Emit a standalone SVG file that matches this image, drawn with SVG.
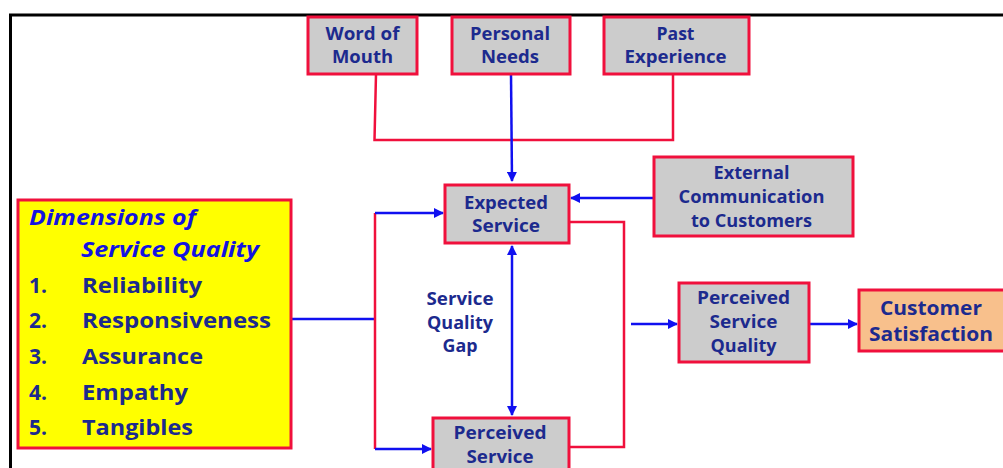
<svg xmlns="http://www.w3.org/2000/svg" width="1003" height="468" viewBox="0 0 1003 468">
  <style>
    .box { fill: #cccccc; stroke: #f0103c; stroke-width: 3; }
    .lbl { font-family: "Open Sans", Lato, sans-serif; font-weight: bold; fill: #1c2a8e; text-anchor: middle; }
    .s17 { font-size: 17.5px; }
    .s20 { font-size: 20px; }
    .red { fill: none; stroke: #f0103c; stroke-width: 2.5; }
    .blue { fill: none; stroke: #1010f0; stroke-width: 2.5; }
    .dim { font-family: "Open Sans", Lato, sans-serif; font-weight: bold; font-size: 21px; fill: #1c2a8e; }
    .dimt { font-family: "Open Sans", Lato, sans-serif; font-weight: bold; font-style: italic; font-size: 21px; fill: #1414e0; }
  </style>
  <defs>
    <marker id="arr" viewBox="0 0 10 10" refX="9" refY="5" markerWidth="4" markerHeight="4" orient="auto-start-reverse" markerUnits="strokeWidth">
      <path d="M0,0 L10,5 L0,10 z" fill="#1010f0"/>
    </marker>
  </defs>
  <rect width="1003" height="468" fill="#ffffff"/>
  <!-- frame -->
  <path d="M10.5,468 V15 H1003" fill="none" stroke="#000000" stroke-width="3"/>

  <!-- connectors -->
  <g id="connectors">
    <path class="red" d="M376,74 L374.5,140 H673 V74"/>
    <path class="blue" d="M511,74 L512,181" marker-end="url(#arr)"/>
    <path class="blue" d="M654,198 H571" marker-end="url(#arr)"/>
    <path class="blue" d="M291,319 H375"/>
    <path class="red" d="M375,213 V449"/>
    <path class="blue" d="M375,213 H443" marker-end="url(#arr)"/>
    <path class="blue" d="M375,449 H431" marker-end="url(#arr)"/>
    <path class="blue" d="M512,246 V415" marker-start="url(#arr)" marker-end="url(#arr)"/>
    <path class="red" d="M569,222 H624 V447 H569"/>
    <path class="blue" d="M631,324 H677" marker-end="url(#arr)"/>
    <path class="blue" d="M809,324 H857" marker-end="url(#arr)"/>
  </g>

  <g id="word-of-mouth">
    <rect class="box" x="308" y="17" width="109" height="57"/>
    <text class="lbl s17" x="362.5" y="40" textLength="74" lengthAdjust="spacingAndGlyphs">Word of</text>
    <text class="lbl s17" x="362.5" y="63" textLength="61" lengthAdjust="spacingAndGlyphs">Mouth</text>
  </g>
  <g id="personal-needs">
    <rect class="box" x="452" y="17" width="118" height="57"/>
    <text class="lbl s17" x="510" y="40" textLength="80" lengthAdjust="spacingAndGlyphs">Personal</text>
    <text class="lbl s17" x="510" y="63" textLength="58" lengthAdjust="spacingAndGlyphs">Needs</text>
  </g>
  <g id="past-experience">
    <rect class="box" x="604" y="17" width="145" height="57"/>
    <text class="lbl s17" x="675.5" y="40" textLength="38" lengthAdjust="spacingAndGlyphs">Past</text>
    <text class="lbl s17" x="675.5" y="63" textLength="102" lengthAdjust="spacingAndGlyphs">Experience</text>
  </g>
  <g id="external-communication">
    <rect class="box" x="654" y="157" width="199" height="79"/>
    <text class="lbl s17" x="751.5" y="179" textLength="76" lengthAdjust="spacingAndGlyphs">External</text>
    <text class="lbl s17" x="751.5" y="203" textLength="146" lengthAdjust="spacingAndGlyphs">Communication</text>
    <text class="lbl s17" x="751.5" y="227" textLength="121" lengthAdjust="spacingAndGlyphs">to Customers</text>
  </g>
  <g id="expected-service">
    <rect class="box" x="445" y="185" width="124" height="58"/>
    <text class="lbl s17" x="506" y="209" textLength="84" lengthAdjust="spacingAndGlyphs">Expected</text>
    <text class="lbl s17" x="506" y="232" textLength="68" lengthAdjust="spacingAndGlyphs">Service</text>
  </g>
  <g id="perceived-service">
    <rect class="box" x="433" y="418" width="136" height="60"/>
    <text class="lbl s17" x="500" y="439" textLength="93" lengthAdjust="spacingAndGlyphs">Perceived</text>
    <text class="lbl s17" x="500" y="463" textLength="67" lengthAdjust="spacingAndGlyphs">Service</text>
  </g>
  <g id="perceived-service-quality">
    <rect class="box" x="679" y="283" width="130" height="79"/>
    <text class="lbl s17" x="743.5" y="304" textLength="93" lengthAdjust="spacingAndGlyphs">Perceived</text>
    <text class="lbl s17" x="743.5" y="328" textLength="68" lengthAdjust="spacingAndGlyphs">Service</text>
    <text class="lbl s17" x="743.5" y="352" textLength="66" lengthAdjust="spacingAndGlyphs">Quality</text>
  </g>
  <g id="customer-satisfaction">
    <rect x="859" y="290" width="150" height="61" fill="#f8c08c" stroke="#f0103c" stroke-width="3"/>
    <text class="lbl s20" x="931" y="315" textLength="102" lengthAdjust="spacingAndGlyphs">Customer</text>
    <text class="lbl s20" x="931" y="341" textLength="124" lengthAdjust="spacingAndGlyphs">Satisfaction</text>
  </g>
  <g id="gap-label">
    <text class="lbl s17" x="460" y="305" textLength="67" lengthAdjust="spacingAndGlyphs">Service</text>
    <text class="lbl s17" x="460" y="329" textLength="66" lengthAdjust="spacingAndGlyphs">Quality</text>
    <text class="lbl s17" x="460" y="352" textLength="35" lengthAdjust="spacingAndGlyphs">Gap</text>
  </g>
  <g id="dimensions">
    <rect x="18" y="200" width="273" height="248" fill="#ffff00" stroke="#f0103c" stroke-width="3"/>
    <text class="dimt" x="29" y="225" textLength="167" lengthAdjust="spacingAndGlyphs">Dimensions of</text>
    <text class="dimt" x="81" y="257" textLength="178" lengthAdjust="spacingAndGlyphs">Service Quality</text>
    <text class="dim" x="29" y="293">1.</text>
    <text class="dim" x="82" y="293" textLength="120" lengthAdjust="spacingAndGlyphs">Reliability</text>
    <text class="dim" x="29" y="328">2.</text>
    <text class="dim" x="82" y="328" textLength="189" lengthAdjust="spacingAndGlyphs">Responsiveness</text>
    <text class="dim" x="29" y="364">3.</text>
    <text class="dim" x="82" y="364" textLength="121" lengthAdjust="spacingAndGlyphs">Assurance</text>
    <text class="dim" x="29" y="400">4.</text>
    <text class="dim" x="82" y="400" textLength="106" lengthAdjust="spacingAndGlyphs">Empathy</text>
    <text class="dim" x="29" y="435">5.</text>
    <text class="dim" x="82" y="435" textLength="111" lengthAdjust="spacingAndGlyphs">Tangibles</text>
  </g>
</svg>
